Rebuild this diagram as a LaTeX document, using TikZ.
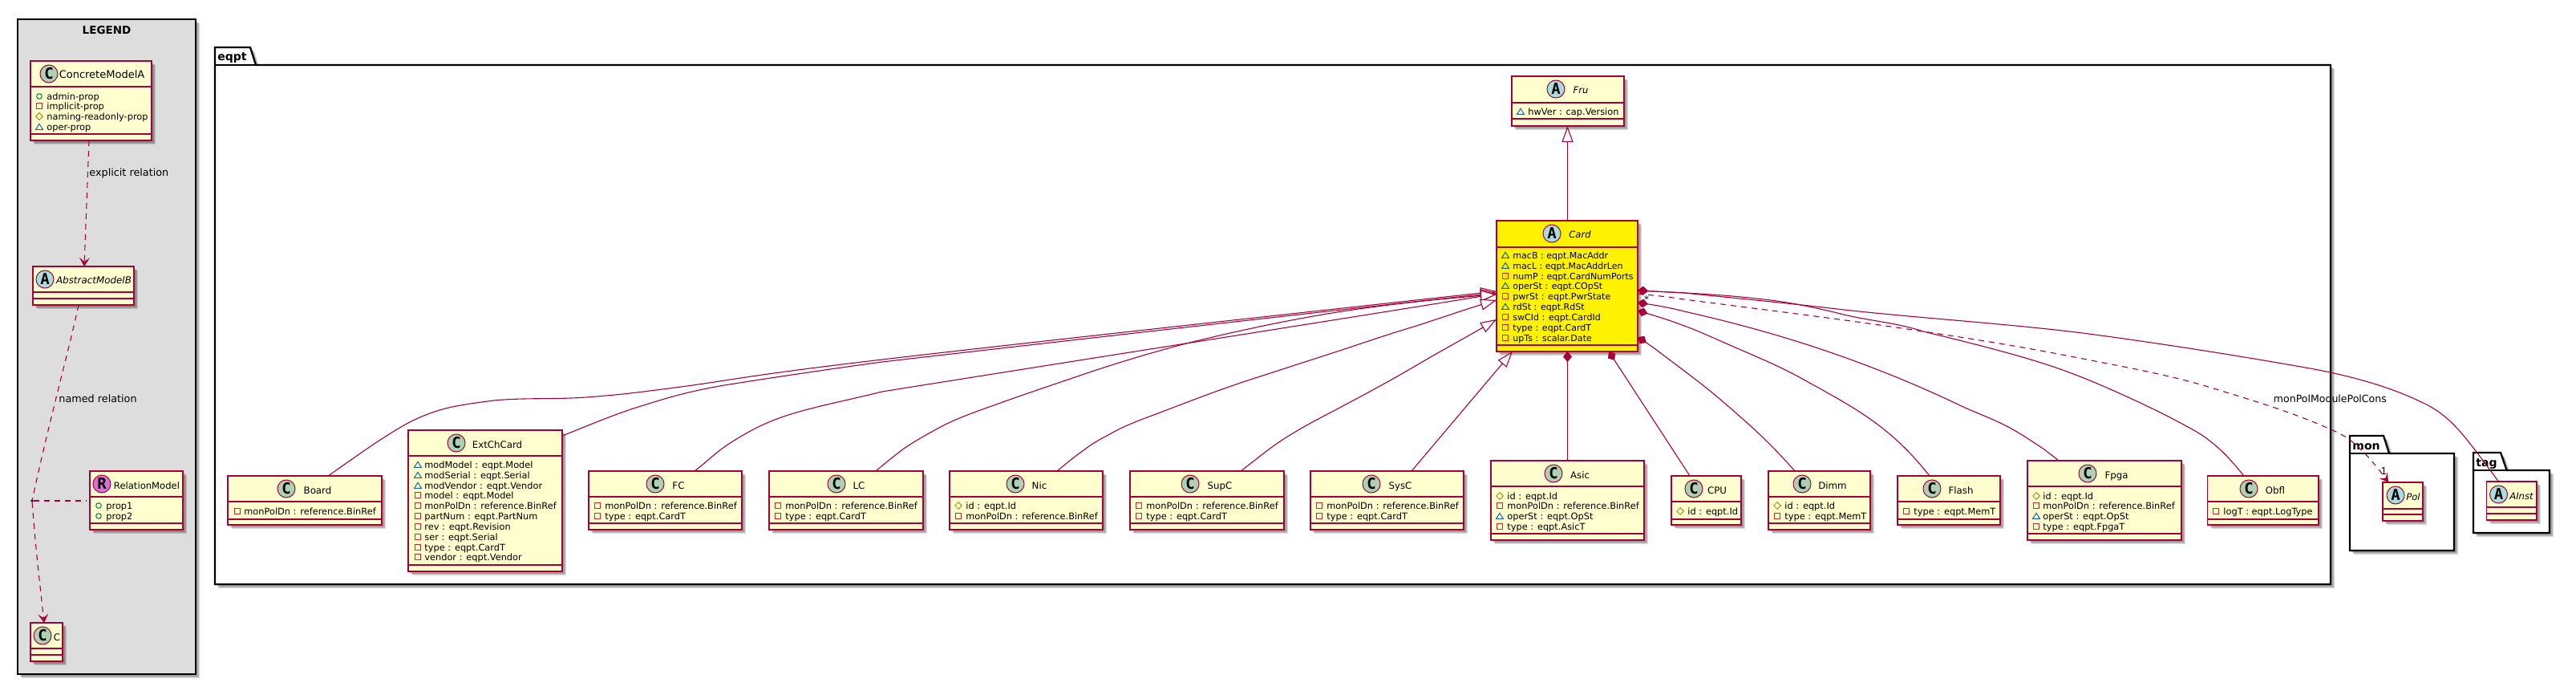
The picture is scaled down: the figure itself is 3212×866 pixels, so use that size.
\documentclass[tikz,border=0pt]{standalone}
\usepackage{fontspec}
\setmainfont{DejaVu Sans}
\setmonofont{DejaVu Sans Mono}
\usetikzlibrary{arrows.meta,fit,shadows}

\definecolor{umlborder}{HTML}{A80036}
\definecolor{umlfill}{HTML}{FEFECE}
\definecolor{legendfill}{HTML}{DDDDDD}
\definecolor{markclass}{HTML}{ADD1B2}
\definecolor{markabs}{HTML}{A9DCDF}
\definecolor{markrel}{HTML}{DA70D6}
\definecolor{colpub}{HTML}{038048}
\definecolor{colpriv}{HTML}{C82930}
\definecolor{colprot}{HTML}{B38D22}
\definecolor{colpack}{HTML}{1963A0}

\tikzset{
  softshadow/.style={
    drop shadow={shadow xshift=2.6pt,shadow yshift=-2.6pt,fill=black,opacity=.14},
    drop shadow={shadow xshift=2pt,shadow yshift=-2pt,fill=black,opacity=.14},
    drop shadow={shadow xshift=1.4pt,shadow yshift=-1.4pt,fill=black,opacity=.14}},
  classbox/.style={draw=umlborder,fill=umlfill,line width=.75pt,inner sep=0pt,outer sep=0pt,softshadow},
  pkgbox/.style={draw=black,fill=white,line width=1.1pt,softshadow},
  divider/.style={draw=umlborder,line width=.75pt},
  markbase/.style={circle,draw=umlborder,line width=.5pt,minimum size=11pt,inner sep=0pt,
    font=\fontsize{9.5pt}{10pt}\selectfont\ttfamily\bfseries},
  classmark/.style={markbase,fill=markclass},
  absmark/.style={markbase,fill=markabs},
  relmark/.style={markbase,fill=markrel},
  headtext/.style={anchor=base,inner sep=0pt,font=\fontsize{5.9pt}{7pt}\selectfont},
  legendhead/.style={headtext,font=\fontsize{6.5pt}{7pt}\selectfont},
  abshead/.style={headtext,font=\fontsize{5.8pt}{7pt}\selectfont\itshape},
  pkgtitle/.style={anchor=base west,inner sep=0pt,font=\fontsize{7pt}{8pt}\selectfont\bfseries},
  membertext/.style={anchor=base west,inner sep=0pt,font=\fontsize{5.68pt}{6pt}\selectfont},
  cardtext/.style={anchor=base west,inner sep=0pt,font=\fontsize{5.52pt}{6pt}\selectfont},
  edgetext/.style={anchor=base west,inner sep=0pt,font=\fontsize{6.4pt}{7pt}\selectfont},
  iconline/.style={line width=.5pt,fill=none},
  relline/.style={draw=umlborder,line width=.55pt},
  relinh/.style={relline,arrows={-Triangle[open,fill=white,length=10pt,width=7pt]}},
  relcomp/.style={relline,arrows={Diamond[length=6.5pt,width=5.5pt,fill=umlborder]-}},
  reldash/.style={relline,dash pattern=on 3.5pt off 3pt},
  relopen/.style={reldash,arrows={-Stealth[length=5.5pt,width=6.5pt,inset=2.5pt,fill=umlborder]}},
  joindot/.style={circle,fill=black,minimum size=1.8pt,inner sep=0pt}
}

% member icons, x and y of the middle
\newcommand{\iconpub}[2]{\draw[iconline,draw=colpub] (#1,#2) circle (3.3);}
\newcommand{\iconpriv}[2]{\draw[iconline,draw=colpriv] (#1-3.2,#2-3.2) rectangle (#1+3.2,#2+3.2);}
\newcommand{\iconprot}[2]{\draw[iconline,draw=colprot] (#1-4.3,#2) -- (#1,#2-4.3) -- (#1+4.3,#2) -- (#1,#2+4.3) -- cycle;}
\newcommand{\iconpack}[2]{\draw[iconline,draw=colpack] (#1-4.4,#2+3.3) -- (#1+4.4,#2+3.3) -- (#1,#2-3.7) -- cycle;}

% name, left, top, right, bottom, first and second divider
\newcommand{\umlclass}[8][]{
  \node[classbox,#1,fit={(#3,#4) (#5,#6)}] (#2) {};
  \draw[divider] (#2.west |- 0,#7) -- (#2.east |- 0,#7);
  \draw[divider] (#2.west |- 0,#8) -- (#2.east |- 0,#8);
}
% owner, icon x, text x, list of row/icon/text
\newcommand{\umlmembers}[5][membertext]{
  \foreach \mrow/\mkind/\mtext [count=\mi] in {#5} {
    \csname icon\mkind\endcsname{#3}{\mrow}
    \node[#1] (#2-m\mi) at (#4,\mrow+4.3) {\mtext};
  }
}
% left, top, top right, slant end, tab bottom, right, bottom
\newcommand{\umlpkg}[7]{
  \draw[pkgbox] (#1,#5) -- (#1,#2) -- (#3,#2) -- (#4,#5) -- (#6,#5) -- (#6,#7) -- (#1,#7) -- cycle;
  \draw[black,line width=1.1pt] (#1,#5) -- (#4,#5);
}

\begin{document}
\begin{tikzpicture}[x=.5pt,y=-.5pt]
  \useasboundingbox (0,0) rectangle (3212,866);

  % legend panel
  \node[draw=black,fill=legendfill,line width=1.1pt,inner sep=0pt,outer sep=0pt,softshadow,
    fit={(22,24) (244,840)}] (legend) {};
  \node[anchor=base,inner sep=0pt,font=\fontsize{6.75pt}{8pt}\selectfont\bfseries] (legendtitle) at (133,43) {LEGEND};

  % packages
  \umlpkg{268}{59}{312}{319}{81}{2906}{728}
  \node[pkgtitle] (eqpttitle) at (271,76) {eqpt};
  \umlpkg{2930}{543}{2972}{2979}{565}{3060}{686}
  \node[pkgtitle] (montitle) at (2933,560) {mon};
  \umlpkg{3084}{564}{3118}{3125.5}{586}{3179}{664}
  \node[pkgtitle] (tagtitle) at (3087,581) {tag};

  % legend classes
  \umlclass{concretea}{38}{76}{189}{175}{108}{167}
  \node[classmark] (concretea-c) at (61,92) {C};
  \node[legendhead] (concretea-t) at (127,98) {ConcreteModelA};
  \umlmembers{concretea}{49}{58}{120/pub/admin-prop,132/priv/implicit-prop,145/prot/naming-readonly-prop,158/pack/oper-prop}

  \umlclass{abstractb}{41}{332}{167}{380}{364}{372}
  \node[absmark] (abstractb-c) at (56,348) {A};
  \node[abshead,font=\fontsize{5.95pt}{7pt}\selectfont\itshape] (abstractb-t) at (117,353) {AbstractModelB};

  \umlclass{relmodel}{112}{587}{228}{660}{619}{652}
  \node[relmark] (relmodel-c) at (127,603) {R};
  \node[headtext,font=\fontsize{5.8pt}{7pt}\selectfont] (relmodel-t) at (183,609) {RelationModel};
  \umlmembers{relmodel}{123}{132}{630/pub/prop1,643/pub/prop2}

  \umlclass{modelc}{38}{776}{78}{824}{808}{816}
  \node[classmark] (modelc-c) at (53,792) {C};
  \node[headtext] (modelc-t) at (71,798) {C};

  % parents
  \umlclass{fru}{1885}{95}{2025}{157}{128}{148}
  \node[absmark] (fru-c) at (1940,111) {A};
  \node[abshead] (fru-t) at (1971,117) {Fru};
  \umlmembers{fru}{1896}{1905}{139/pack/hwVer : cap.Version}

  \umlclass[fill=yellow]{card}{1866}{275}{2042}{438}{308}{430}
  \node[absmark] (card-c) at (1935,291) {A};
  \node[abshead] (card-t) at (1970,297) {Card};
  \umlmembers[cardtext]{card}{1877}{1886}{318/pack/macB : eqpt.MacAddr,331/pack/macL : eqpt.MacAddrLen,
    344/priv/numP : eqpt.CardNumPorts,356/pack/operSt : eqpt.COpSt,369/priv/pwrSt : eqpt.PwrState,
    382/pack/rdSt : eqpt.RdSt,395/priv/swCId : eqpt.CardId,408/priv/type : eqpt.CardT,421/priv/upTs : scalar.Date}

  % children of card
  \umlclass{board}{284}{593}{476}{654}{625}{647}
  \node[classmark] (board-c) at (357,609) {C};
  \node[headtext] (board-t) at (396,615) {Board};
  \umlmembers{board}{296}{304}{637/priv/monPolDn : reference.BinRef}

  \umlclass{extch}{509}{536}{701}{712}{568}{704}
  \node[classmark] (extch-c) at (569,552) {C};
  \node[headtext] (extch-t) at (620,558) {ExtChCard};
  \umlmembers{extch}{521}{529}{579/pack/modModel : eqpt.Model,592/pack/modSerial : eqpt.Serial,
    605/pack/modVendor : eqpt.Vendor,617/priv/model : eqpt.Model,630/priv/monPolDn : reference.BinRef,
    643/priv/partNum : eqpt.PartNum,656/priv/rev : eqpt.Revision,669/priv/ser : eqpt.Serial,
    682/priv/type : eqpt.CardT,694/priv/vendor : eqpt.Vendor}

  \umlclass{fc}{734}{587}{925}{660}{619}{652}
  \node[classmark] (fc-c) at (817,603) {C};
  \node[headtext] (fc-t) at (846,609) {FC};
  \umlmembers{fc}{745}{754}{630/priv/monPolDn : reference.BinRef,643/priv/type : eqpt.CardT}

  \umlclass{lc}{959}{587}{1151}{660}{619}{652}
  \node[classmark] (lc-c) at (1043,603) {C};
  \node[headtext] (lc-t) at (1071,609) {LC};
  \umlmembers{lc}{970}{979}{630/priv/monPolDn : reference.BinRef,643/priv/type : eqpt.CardT}

  \umlclass{nic}{1184}{587}{1375}{660}{619}{652}
  \node[classmark] (nic-c) at (1266,603) {C};
  \node[headtext] (nic-t) at (1296,609) {Nic};
  \umlmembers{nic}{1195}{1204}{630/prot/id : eqpt.Id,643/priv/monPolDn : reference.BinRef}

  \umlclass{supc}{1409}{587}{1601}{660}{619}{652}
  \node[classmark] (supc-c) at (1484,603) {C};
  \node[headtext] (supc-t) at (1521,609) {SupC};
  \umlmembers{supc}{1420}{1429}{630/priv/monPolDn : reference.BinRef,643/priv/type : eqpt.CardT}

  \umlclass{sysc}{1634}{587}{1825}{660}{619}{652}
  \node[classmark] (sysc-c) at (1710,603) {C};
  \node[headtext] (sysc-t) at (1746,609) {SysC};
  \umlmembers{sysc}{1645}{1654}{630/priv/monPolDn : reference.BinRef,643/priv/type : eqpt.CardT}

  \umlclass{asic}{1859}{574}{2050}{673}{606}{665}
  \node[classmark] (asic-c) at (1937,590) {C};
  \node[headtext] (asic-t) at (1970,596) {Asic};
  \umlmembers{asic}{1870}{1879}{618/prot/id : eqpt.Id,630/priv/monPolDn : reference.BinRef,
    643/pack/operSt : eqpt.OpSt,656/priv/type : eqpt.AsicT}

  \umlclass{cpu}{2084}{593}{2171}{654}{625}{647}
  \node[classmark] (cpu-c) at (2112,609) {C};
  \node[headtext] (cpu-t) at (2141,615) {CPU};
  \umlmembers{cpu}{2095}{2104}{637/prot/id : eqpt.Id}

  \umlclass{dimm}{2205}{587}{2332}{660}{619}{652}
  \node[classmark] (dimm-c) at (2247,603) {C};
  \node[headtext] (dimm-t) at (2285,609) {Dimm};
  \umlmembers{dimm}{2216}{2225}{630/prot/id : eqpt.Id,643/priv/type : eqpt.MemT}

  \umlclass{flash}{2366}{593}{2494}{654}{625}{647}
  \node[classmark] (flash-c) at (2409,609) {C};
  \node[headtext] (flash-t) at (2445,615) {Flash};
  \umlmembers{flash}{2377}{2386}{637/priv/type : eqpt.MemT}

  \umlclass{fpga}{2528}{574}{2720}{673}{606}{665}
  \node[classmark] (fpga-c) at (2603,590) {C};
  \node[headtext] (fpga-t) at (2639,596) {Fpga};
  \umlmembers{fpga}{2539}{2547}{618/prot/id : eqpt.Id,630/priv/monPolDn : reference.BinRef,
    643/pack/operSt : eqpt.OpSt,656/priv/type : eqpt.FpgaT}

  \umlclass{obfl}{2752.5}{593}{2891}{654}{625}{647}
  \node[classmark] (obfl-c) at (2804,609) {C};
  \node[headtext] (obfl-t) at (2837,615) {Obfl};
  \umlmembers{obfl}{2763}{2772}{637/priv/logT : eqpt.LogType}

  % other packages
  \umlclass{pol}{2971}{601}{3021}{649}{634}{641}
  \node[absmark] (pol-c) at (2987,617) {A};
  \node[abshead] (pol-t) at (3009,623) {Pol};
  \umlclass{ainst}{3100.5}{600}{3163}{648}{632}{640}
  \node[absmark] (ainst-c) at (3115.5,616) {A};
  \node[abshead] (ainst-t) at (3144,622) {AInst};

  % legend relations
  \node[joindot] (join) at (40,624) {};
  \draw[relopen] ([shift={(73,0)}]concretea.south west) -- ([shift={(64,0)}]abstractb.north west);
  \node[edgetext] (explicitlabel) at (111,220) {explicit relation};
  \draw[reldash] ([shift={(57,0)}]abstractb.south west) .. controls (85,440) and (60,530) .. (join);
  \node[edgetext] (namedlabel) at (73,501) {named relation};
  \draw[relopen] (join) .. controls (44,680) and (50,730) .. ([shift={(17,0)}]modelc.north west);
  \draw[reldash,shorten >=2pt] (join) -- (relmodel.west |- join);

  % generalisations
  \draw[relinh] (card.north -| 1954.5,0) -- (fru.south -| 1954.5,0);
  \draw[relinh] ([shift={(125,0)}]board.north west)
    .. controls (427,581) and (484,538.5) .. (517,523)
    .. controls (550,507.5) and (572,505) .. (608,500)
    .. controls (644,495) and (691,498) .. (731,495)
    .. controls (771,492) and (788,490) .. (849,482)
    .. controls (910,474) and (930,468) .. (1100,448)
    .. controls (1270,428) and (1738,377) .. ([shift={(0,88)}]card.north west);
  \draw[relinh] ([shift={(0,7)}]extch.north east)
    .. controls (717,537) and (762,517.5) .. (796,507)
    .. controls (830,496.5) and (852,489) .. (903,480)
    .. controls (960,471) and (1040,459) .. (1100,451)
    .. controls (1220,437) and (1740,378) .. ([shift={(0,90)}]card.north west);
  \draw[relinh] ([shift={(132,0)}]fc.north west)
    .. controls (882,575) and (894,562) .. (913.5,550)
    .. controls (933,538) and (952,527) .. (983,517)
    .. controls (1014,507) and (1060,498) .. (1100,488)
    .. controls (1300,456) and (1740,387) .. ([shift={(0,91)}]card.north west);
  \draw[relinh] ([shift={(133,0)}]lc.north west)
    .. controls (1105,576) and (1115,568) .. (1125.5,560)
    .. controls (1143,548) and (1158,540) .. (1176.5,530)
    .. controls (1203,517) and (1226,510) .. (1253,500)
    .. controls (1287,488) and (1320,477) .. (1355,465)
    .. controls (1397,451) and (1440,438) .. (1483,427)
    .. controls (1540,413) and (1600,400) .. (1661,390)
    .. controls (1730,379) and (1800,372) .. ([shift={(0,92)}]card.north west);
  \draw[relinh] ([shift={(134,0)}]nic.north west)
    .. controls (1330,577) and (1341,568) .. (1352.5,560)
    .. controls (1364,551) and (1378,544) .. (1391,537)
    .. controls (1412,526) and (1434,519) .. (1457,510)
    .. controls (1491,497) and (1525,484) .. (1559,473)
    .. controls (1593,462) and (1627,451) .. (1661,440)
    .. controls (1695,429) and (1729,417) .. (1763,407)
    .. controls (1797,396) and (1832,384) .. ([shift={(0,99)}]card.north west);
  \draw[relinh] ([shift={(138,0)}]supc.north west)
    .. controls (1559,578) and (1570,569) .. (1582,560)
    .. controls (1606,542) and (1632,528) .. (1661,513)
    .. controls (1695,495) and (1729,477) .. (1763,457)
    .. controls (1797,437) and (1832,418) .. ([shift={(0,123)}]card.north west);
  \draw[relinh] ([shift={(126,0)}]sysc.north west) -- ([shift={(20,0)}]card.south west);

  % compositions
  \draw[relcomp] (card.south -| 1954.5,0) -- (asic.north -| 1954.5,0);
  \draw[relcomp] ([shift={(140,0)}]card.south west) -- ([shift={(23,0)}]cpu.north west);
  \draw[relcomp] ([shift={(0,145)}]card.north east)
    .. controls (2062,433) and (2081,448) .. (2100,462)
    .. controls (2117,475) and (2134,488) .. (2150,502)
    .. controls (2172,521) and (2194,540) .. (2213,560)
    .. controls (2222,569) and (2230,578) .. ([shift={(33,0)}]dimm.north west);
  \draw[relcomp] ([shift={(0,112)}]card.north east)
    .. controls (2062,393) and (2082,399) .. (2100,406)
    .. controls (2117,412) and (2134,420) .. (2150,427)
    .. controls (2184,442) and (2217,455) .. (2249,473)
    .. controls (2283,492) and (2318,510) .. (2349,535)
    .. controls (2359,543) and (2368,551) .. (2377,560)
    .. controls (2388,571) and (2397,582) .. ([shift={(40,0)}]flash.north west);
  \draw[relcomp] ([shift={(0,102)}]card.north east)
    .. controls (2062,380) and (2081,383) .. (2100,388)
    .. controls (2167,403) and (2235,422) .. (2299,445)
    .. controls (2350,463) and (2400,484) .. (2448,507)
    .. controls (2470,517) and (2493,525) .. (2513,537)
    .. controls (2525,544) and (2537,552) .. (2549,560)
    .. controls (2555,565) and (2561,569) .. ([shift={(39,0)}]fpga.north west);
  \draw[relcomp] ([shift={(0,87)}]card.north east)
    .. controls (2080,364) and (2140,366) .. (2199,373)
    .. controls (2235,377) and (2267,384) .. (2299,392)
    .. controls (2332,400) and (2365,402) .. (2398,413)
    .. controls (2448,425) and (2508,440) .. (2548,453)
    .. controls (2580,463) and (2614,477) .. (2647,492)
    .. controls (2680,507) and (2707,520) .. (2737,537)
    .. controls (2748,543) and (2758,551) .. (2768,560)
    .. controls (2778,569) and (2788,581) .. ([shift={(45.5,0)}]obfl.north west);
  \draw[relcomp] ([shift={(0,87)}]card.north east)
    .. controls (2062,363) and (2081,364) .. (2100,365)
    .. controls (2167,372) and (2233,378) .. (2299,386)
    .. controls (2400,397) and (2500,403) .. (2597,415)
    .. controls (2695,428) and (2790,443) .. (2880,459)
    .. controls (2930,468) and (2980,482) .. (3017,500)
    .. controls (3045,512) and (3062,530) .. (3080,553)
    .. controls (3092,568) and (3104,585) .. ([shift={(15,0)}]ainst.north west);

  % dashed link to the policy
  \draw[relopen] ([shift={(0,91)}]card.north east)
    .. controls (2062,368) and (2081,370) .. (2100,373)
    .. controls (2200,386) and (2300,398) .. (2398,413)
    .. controls (2465,423) and (2532,434) .. (2597,447)
    .. controls (2648,457) and (2698,466) .. (2747,480)
    .. controls (2802,497) and (2855,512) .. (2906,535)
    .. controls (2915,539) and (2923,543) .. (2930,548)
    .. controls (2948,562) and (2965,583) .. ([shift={(7,0)}]pol.north west);
  \node[edgetext,font=\fontsize{6.27pt}{7pt}\selectfont] (polcons) at (2834.5,501) {monPolModulePolCons};
  \node[anchor=center,inner sep=0pt,font=\fontsize{6pt}{7pt}\selectfont] (polstar) at (2053,373) {*};
  \node[anchor=center,inner sep=0pt,font=\fontsize{6pt}{7pt}\selectfont] (polone) at (2972.5,587) {1};
\end{tikzpicture}
\end{document}
